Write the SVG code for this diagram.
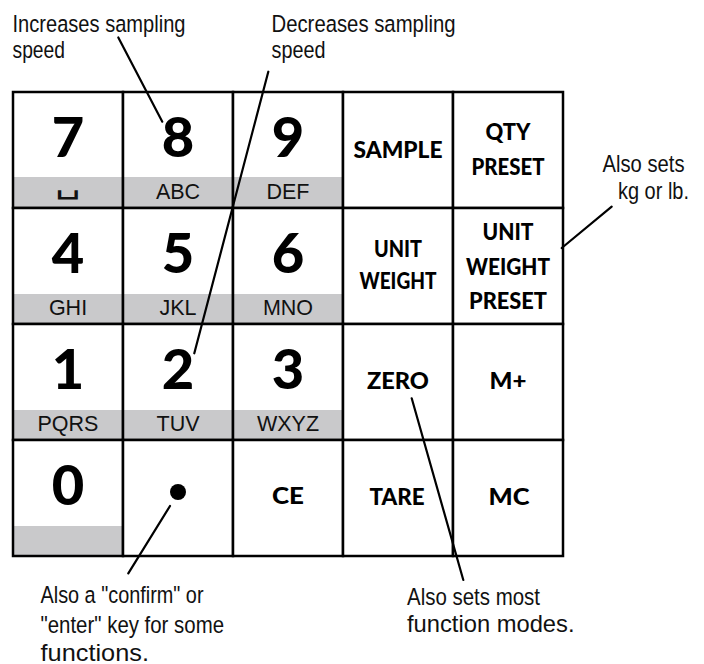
<svg xmlns="http://www.w3.org/2000/svg" width="704" height="664" viewBox="0 0 704 664">
<style>
.cell{fill:#fff}
.bar{fill:#c9c9cb}
.edge{fill:none;stroke:#000;stroke-width:2.5}
.dig{font-family:"Lato","Liberation Sans",sans-serif;font-weight:900;font-size:56px;fill:#000;text-anchor:middle}
.let{font-family:"Liberation Sans",Arial,sans-serif;font-size:21.5px;fill:#111;text-anchor:middle}
.sp{font-family:"DejaVu Sans",sans-serif;font-weight:200;font-size:28px;fill:#111;text-anchor:middle}
.fn{font-family:"Lato","Liberation Sans",sans-serif;font-weight:900;font-size:23px;fill:#000;text-anchor:middle}
.note{font-family:"Liberation Sans",Arial,sans-serif;font-size:24.5px;fill:#111}
.conn line{stroke:#000;stroke-width:2.2;stroke-linecap:round}
</style>
<rect width="704" height="664" fill="#fff"/>

<g id="key7"><rect class="cell" x="13" y="92" width="110" height="116"/><rect class="bar" x="14" y="177" width="108" height="31"/><rect class="edge" x="13" y="92" width="110" height="116"/><text class="dig" x="68" y="157">7</text><text class="sp" x="68" y="193" textLength="26" lengthAdjust="spacingAndGlyphs">␣</text></g>
<g id="key8"><rect class="cell" x="123" y="92" width="110" height="116"/><rect class="bar" x="124" y="177" width="108" height="31"/><rect class="edge" x="123" y="92" width="110" height="116"/><text class="dig" x="178" y="157">8</text><text class="let" x="178" y="199">ABC</text></g>
<g id="key9"><rect class="cell" x="233" y="92" width="110" height="116"/><rect class="bar" x="234" y="177" width="108" height="31"/><rect class="edge" x="233" y="92" width="110" height="116"/><text class="dig" x="288" y="157">9</text><text class="let" x="288" y="199">DEF</text></g>
<g id="keySample"><rect class="cell" x="343" y="92" width="110" height="116"/><rect class="edge" x="343" y="92" width="110" height="116"/><text class="fn" x="398" y="158" textLength="89" lengthAdjust="spacingAndGlyphs">SAMPLE</text></g>
<g id="keyQtyPreset"><rect class="cell" x="453" y="92" width="110" height="116"/><rect class="edge" x="453" y="92" width="110" height="116"/><text class="fn" x="508" y="140" textLength="45" lengthAdjust="spacingAndGlyphs">QTY</text><text class="fn" x="508" y="174.5" textLength="73" lengthAdjust="spacingAndGlyphs">PRESET</text></g>

<g id="key4"><rect class="cell" x="13" y="208" width="110" height="116"/><rect class="bar" x="14" y="294" width="108" height="30"/><rect class="edge" x="13" y="208" width="110" height="116"/><text class="dig" x="68" y="273">4</text><text class="let" x="68" y="315">GHI</text></g>
<g id="key5"><rect class="cell" x="123" y="208" width="110" height="116"/><rect class="bar" x="124" y="294" width="108" height="30"/><rect class="edge" x="123" y="208" width="110" height="116"/><text class="dig" x="178" y="273">5</text><text class="let" x="178" y="315">JKL</text></g>
<g id="key6"><rect class="cell" x="233" y="208" width="110" height="116"/><rect class="bar" x="234" y="294" width="108" height="30"/><rect class="edge" x="233" y="208" width="110" height="116"/><text class="dig" x="288" y="273">6</text><text class="let" x="288" y="315">MNO</text></g>
<g id="keyUnitWeight"><rect class="cell" x="343" y="208" width="110" height="116"/><rect class="edge" x="343" y="208" width="110" height="116"/><text class="fn" x="398" y="257" textLength="48" lengthAdjust="spacingAndGlyphs">UNIT</text><text class="fn" x="398" y="288.5" textLength="77" lengthAdjust="spacingAndGlyphs">WEIGHT</text></g>
<g id="keyUnitWeightPreset"><rect class="cell" x="453" y="208" width="110" height="116"/><rect class="edge" x="453" y="208" width="110" height="116"/><text class="fn" x="508" y="240" textLength="51" lengthAdjust="spacingAndGlyphs">UNIT</text><text class="fn" x="508" y="275" textLength="84" lengthAdjust="spacingAndGlyphs">WEIGHT</text><text class="fn" x="508" y="308.5" textLength="78" lengthAdjust="spacingAndGlyphs">PRESET</text></g>

<g id="key1"><rect class="cell" x="13" y="324" width="110" height="116"/><rect class="bar" x="14" y="410" width="108" height="30"/><rect class="edge" x="13" y="324" width="110" height="116"/><text class="dig" x="68" y="389">1</text><text class="let" x="68" y="431">PQRS</text></g>
<g id="key2"><rect class="cell" x="123" y="324" width="110" height="116"/><rect class="bar" x="124" y="410" width="108" height="30"/><rect class="edge" x="123" y="324" width="110" height="116"/><text class="dig" x="178" y="389">2</text><text class="let" x="178" y="431">TUV</text></g>
<g id="key3"><rect class="cell" x="233" y="324" width="110" height="116"/><rect class="bar" x="234" y="410" width="108" height="30"/><rect class="edge" x="233" y="324" width="110" height="116"/><text class="dig" x="288" y="389">3</text><text class="let" x="288" y="431">WXYZ</text></g>
<g id="keyZero"><rect class="cell" x="343" y="324" width="110" height="116"/><rect class="edge" x="343" y="324" width="110" height="116"/><text class="fn" x="398" y="389" textLength="62" lengthAdjust="spacingAndGlyphs">ZERO</text></g>
<g id="keyMplus"><rect class="cell" x="453" y="324" width="110" height="116"/><rect class="edge" x="453" y="324" width="110" height="116"/><text class="fn" x="508" y="389" textLength="37" lengthAdjust="spacingAndGlyphs">M+</text></g>

<g id="key0"><rect class="cell" x="13" y="440" width="110" height="116"/><rect class="bar" x="14" y="526" width="108" height="30"/><rect class="edge" x="13" y="440" width="110" height="116"/><text class="dig" x="68" y="505">0</text></g>
<g id="keyDot"><rect class="cell" x="123" y="440" width="110" height="116"/><rect class="edge" x="123" y="440" width="110" height="116"/><circle cx="178" cy="492" r="8" fill="#000"/></g>
<g id="keyCE"><rect class="cell" x="233" y="440" width="110" height="116"/><rect class="edge" x="233" y="440" width="110" height="116"/><text class="fn" x="288" y="504" textLength="32" lengthAdjust="spacingAndGlyphs">CE</text></g>
<g id="keyTare"><rect class="cell" x="343" y="440" width="110" height="116"/><rect class="edge" x="343" y="440" width="110" height="116"/><text class="fn" x="397" y="505" textLength="55" lengthAdjust="spacingAndGlyphs">TARE</text></g>
<g id="keyMC"><rect class="cell" x="453" y="440" width="110" height="116"/><rect class="edge" x="453" y="440" width="110" height="116"/><text class="fn" x="509" y="505" textLength="41" lengthAdjust="spacingAndGlyphs">MC</text></g>

<g id="noteIncrease"><text class="note" x="12.5" y="31.7" textLength="173" lengthAdjust="spacingAndGlyphs">Increases sampling</text><text class="note" x="12.5" y="58.3" textLength="52.5" lengthAdjust="spacingAndGlyphs">speed</text></g>
<g id="noteDecrease"><text class="note" x="271.5" y="32" textLength="184" lengthAdjust="spacingAndGlyphs">Decreases sampling</text><text class="note" x="271.5" y="58.3" textLength="54" lengthAdjust="spacingAndGlyphs">speed</text></g>
<g id="noteKg"><text class="note" x="602.5" y="171.7" textLength="82" lengthAdjust="spacingAndGlyphs">Also sets</text><text class="note" x="618" y="198.5" textLength="71" lengthAdjust="spacingAndGlyphs">kg or lb.</text></g>
<g id="noteConfirm"><text class="note" x="40.5" y="603.3" textLength="163" lengthAdjust="spacingAndGlyphs">Also a "confirm" or</text><text class="note" x="40.5" y="632.5" textLength="183.5" lengthAdjust="spacingAndGlyphs">"enter" key for some</text><text class="note" x="40.5" y="660.5" textLength="108.5" lengthAdjust="spacingAndGlyphs">functions.</text></g>
<g id="noteModes"><text class="note" x="407" y="605" textLength="133" lengthAdjust="spacingAndGlyphs">Also sets most</text><text class="note" x="407" y="632.3" textLength="167.5" lengthAdjust="spacingAndGlyphs">function modes.</text></g>

<g id="connectors" class="conn">
<line x1="118.3" y1="37.5" x2="162.3" y2="121.7"/>
<line x1="268.3" y1="71.7" x2="194.3" y2="353.3"/>
<line x1="611.7" y1="206.7" x2="561.7" y2="248"/>
<line x1="411.7" y1="398.3" x2="463.3" y2="580"/>
<line x1="170" y1="506" x2="128.3" y2="573.3"/>
</g>
</svg>
